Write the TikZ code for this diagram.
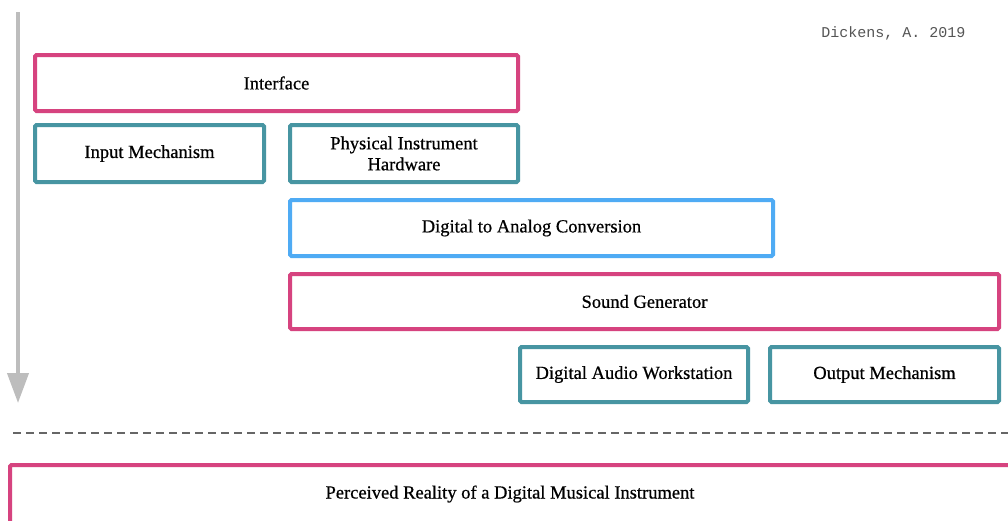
\documentclass[tikz,border=0pt]{standalone}
\usepackage{fontspec}
\newfontfamily\monofont{Liberation Mono}
\newfontfamily\boxfont{Liberation Serif}[FakeBold=0.6]
\usetikzlibrary{arrows.meta}
\definecolor{layerpink}{HTML}{D6437F}
\definecolor{layerteal}{HTML}{4795A2}
\definecolor{layerblue}{HTML}{4FABF4}
\definecolor{flowgray}{HTML}{BDBDBD}
\definecolor{dashgray}{HTML}{666666}
\definecolor{notegray}{HTML}{555555}
\tikzset{
  layer/.style={draw, line width=4pt, rounded corners=1.5pt, fill=white,
    anchor=north west, inner sep=0pt, outer sep=0pt},
  pinklayer/.style={layer, draw=layerpink},
  teallayer/.style={layer, draw=layerteal},
  bluelayer/.style={layer, draw=layerblue},
  label/.style={align=center, text=black,
    font=\boxfont\fontsize{18.5}{21}\selectfont},
}
\newcommand{\layerbox}[6]{%
  % #1 style, #2 name, #3 x, #4 y, #5 width, #6 height (outer stroke edges)
  \node[#1, minimum width=#5pt-4pt, minimum height=#6pt-4pt]
    (#2) at (#3pt+2pt,-#4pt-2pt) {};
}
\begin{document}
\begin{tikzpicture}[x=1pt,y=1pt]
  \useasboundingbox (0,0) rectangle (1008,-520);
  \clip (0,0) rectangle (1008,-520);
  \fill[white] (0,0) rectangle (1008,-520);

  % time axis on the left
  \coordinate (axtop) at (18,-12);
  \coordinate (axbot) at (18,-403);
  \draw[flowgray, line width=4pt,
        -{Triangle[length=30pt,width=21pt]}] (axtop) -- (axbot);

  % credit
  \node[anchor=east, text=notegray, font=\monofont\fontsize{15}{17}\selectfont]
    (credit) at (969,-33) {Dickens, A. 2019};

  % layers
  \layerbox{pinklayer}{interface}{33}{53}{487}{60}
  \node[label] (interfacet) at (interface.center) {Interface};

  \layerbox{teallayer}{input}{33}{123}{233}{61}
  \node[label] (inputt) at (input.center) {Input Mechanism};

  \layerbox{teallayer}{hardware}{288}{123}{232}{61}
  \node[label] (hardwaret) at (hardware.center) {Physical Instrument\\Hardware};

  \layerbox{bluelayer}{dac}{288}{198}{487}{60}
  \node[label] (dact) at (dac.center) {Digital to Analog Conversion};

  \layerbox{pinklayer}{sound}{288}{272}{713}{59}
  \node[label] (soundt) at (sound.center) {Sound Generator};

  \layerbox{teallayer}{daw}{518}{345}{232}{59}
  \node[label] (dawt) at (daw.center) {Digital Audio Workstation};

  \layerbox{teallayer}{output}{768}{345}{233}{59}
  \node[label] (outputt) at (output.center) {Output Mechanism};

  % divider between the system and its perception
  \coordinate (divl) at (13,-433);
  \coordinate (divr) at (1010,-433);
  \draw[dashgray, line width=2pt, dash pattern=on 8pt off 5pt] (divl) -- (divr);

  \layerbox{pinklayer}{perceived}{8}{463}{1030}{90}
  \node[label] (perceivedt) at (510,-494) {Perceived Reality of a Digital Musical Instrument};
\end{tikzpicture}
\end{document}
